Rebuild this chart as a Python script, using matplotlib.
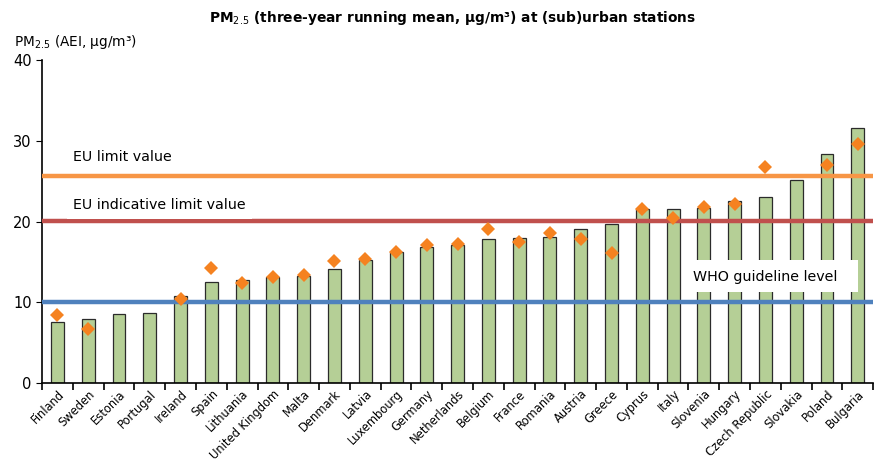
import numpy as np
import matplotlib.pyplot as plt
from matplotlib.patches import Rectangle

countries = ["Finland", "Sweden", "Estonia", "Portugal", "Ireland", "Spain",
             "Lithuania", "United Kingdom", "Malta", "Denmark", "Latvia",
             "Luxembourg", "Germany", "Netherlands", "Belgium", "France",
             "Romania", "Austria", "Greece", "Cyprus", "Italy", "Slovenia",
             "Hungary", "Czech Republic", "Slovakia", "Poland", "Bulgaria"]
# three-year running mean (bars)
aei = [7.55, 7.95, 8.55, 8.65, 10.75, 12.5, 12.8, 13.2, 13.25, 14.1, 15.25,
       16.25, 16.85, 17.1, 17.85, 17.95, 18.1, 19.1, 19.7, 21.5, 21.5, 21.65,
       22.55, 23.05, 25.2, 28.35, 31.55]
# diamonds (nan = no value)
diamonds = [8.45, 6.7, np.nan, np.nan, 10.45, 14.2, 12.45, 13.1, 13.35, 15.15,
            15.4, 16.3, 17.1, 17.2, 19.1, 17.45, 18.55, 17.85, 16.1, 21.6,
            20.4, 21.75, 22.15, 26.75, np.nan, 27.05, 29.6]
eu_limit = 25.6
eu_indicative = 20.05
who_level = 10.05

x = np.arange(len(countries))

fig = plt.figure(figsize=(8.87, 4.68), dpi=100)
ax = fig.add_axes([0.0474, 0.181, 0.937, 0.691])

ax.bar(x, aei, width=0.42, color="#b5cf96", edgecolor="#2b2b2b", linewidth=0.9, zorder=2)
ax.axhline(eu_limit, color="#f79646", lw=3.2, zorder=3)
ax.axhline(eu_indicative, color="#c0504d", lw=3.2, zorder=3)
ax.axhline(who_level, color="#4f81bd", lw=3.2, zorder=3)
ax.plot(x, diamonds, "D", color="#f58220", markersize=7, markeredgewidth=0, zorder=4)

ax.text(0.5, 28.05, "EU limit value", fontsize=10.3, va="center", ha="left")
ax.text(0.5, 22.0, "EU indicative limit value", fontsize=10.3, va="center", ha="left",
        zorder=3.5, bbox=dict(facecolor="white", edgecolor="none", pad=4.5))
ax.add_patch(Rectangle((20.67, 11.3), 5.33, 3.96, facecolor="white", edgecolor="none", zorder=5))
ax.text(20.64, 13.15, "WHO guideline level", fontsize=10.3, va="center", ha="left", zorder=6)

ax.set_xlim(-0.5, len(countries) - 0.5)
ax.set_ylim(0, 40)
ax.set_yticks([0, 10, 20, 30, 40])
ax.tick_params(axis="y", labelsize=10.5, length=4, direction="out")
ax.set_xticks(x)
ax.set_xticklabels(countries, rotation=45, ha="right", rotation_mode="anchor", fontsize=8.3)
ax.tick_params(axis="x", which="major", length=0, pad=3)
ax.set_xticks(np.arange(-0.5, len(countries)), minor=True)
ax.tick_params(axis="x", which="minor", length=5, width=1.2, direction="out")

for s in ["top", "right"]:
    ax.spines[s].set_visible(False)
ax.spines["left"].set_linewidth(1.2)
ax.spines["bottom"].set_linewidth(1.2)

fig.text(0.51, 0.961, "PM$_{2.5}$ (three-year running mean, μg/m³) at (sub)urban stations",
         ha="center", va="center", fontsize=9.9, fontweight="bold")
fig.text(0.016, 0.91, "PM$_{2.5}$ (AEI, μg/m³)", ha="left", va="center", fontsize=9.8)

fig.savefig("out.png", dpi=100)
